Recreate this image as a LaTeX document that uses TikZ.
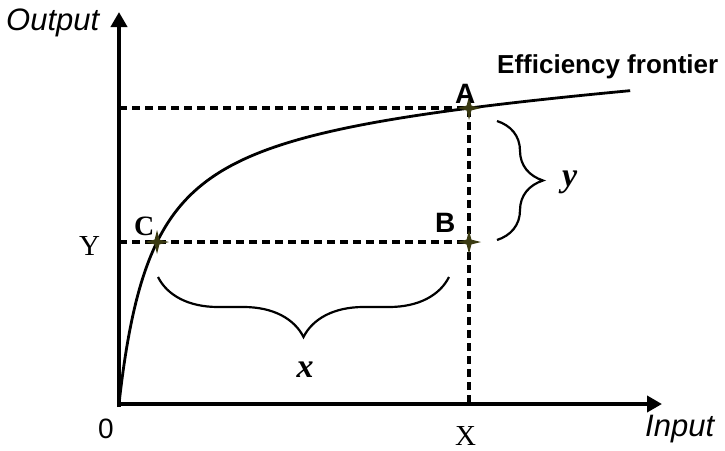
\documentclass[tikz,border=0pt]{standalone}
\usepackage{fontspec}
\setmainfont{Liberation Serif}
\setsansfont{Liberation Sans}
\usetikzlibrary{arrows.meta,decorations.pathreplacing}
\definecolor{markolive}{RGB}{58,58,18}

\tikzset{
  fourstar/.pic={
    \fill[markolive] (0,-12) -- (2.4,-2.4) -- (12,0) -- (2.4,2.4) -- (0,12)
      -- (-2.4,2.4) -- (-12,0) -- (-2.4,-2.4) -- cycle;
  }
}

\begin{document}
\begin{tikzpicture}[
  x=1pt,y=-1pt,
  axis/.style={line width=3.8pt,-{Triangle[length=15pt,width=16pt]}},
  guide/.style={line width=3.2pt,dash pattern=on 8pt off 5pt},
  frontier/.style={line width=2.8pt},
  brc/.style={decorate,decoration={brace,amplitude=#1},line width=2.2pt},
  axislbl/.style={inner sep=0pt,font=\sffamily\itshape\fontsize{31}{33}\selectfont},
  ptlbl/.style={inner sep=0pt,font=\sffamily\bfseries\fontsize{28}{30}\selectfont},
  tick/.style={inner sep=0pt,font=\rmfamily\fontsize{29}{31}\selectfont},
  gap/.style={inner sep=0pt,font=\rmfamily\bfseries\itshape\fontsize{34}{36}\selectfont}
]
  \useasboundingbox (0,0) rectangle (725,450);

  % points
  \coordinate (O) at (119,404);
  \coordinate (A) at (469,108);
  \coordinate (B) at (469,242);
  \coordinate (C) at (157,242);
  \coordinate (ya) at (119,108);
  \coordinate (yc) at (119,242);
  \coordinate (xa) at (469,404);
  \coordinate (ytip) at (119,12);
  \coordinate (xtip) at (662,404);

  % axes
  \draw[axis] (119,407) -- (ytip);
  \draw[axis] (117,404) -- (xtip);

  % guides
  \draw[guide] (ya) -- (A) -- (xa);
  \draw[guide] (yc) -- (B);

  % frontier
  \draw[frontier] plot[domain=0:22.61,samples=160,smooth]
    ({119+\x*\x},{404-301.3*((\x*\x)/(33.7+\x*\x))-0.06*(\x*\x)});

  \pic at (A) {fourstar};
  \pic at (B) {fourstar};
  \pic at (C) {fourstar};

  % braces
  \coordinate (ytop) at (497,121);
  \coordinate (ybot) at (497,240);
  \coordinate (xr) at (449,277);
  \coordinate (xl) at (158,277);
  \draw[brc=46pt] (ytop) -- (ybot);
  \draw[brc=60pt] (xr) -- (xl);

  % labels
  \node[axislbl,anchor=base west] (out) at (6,30) {Output};
  \node[axislbl,anchor=base west] (in) at (645,436) {Input};
  \node[inner sep=0pt,anchor=base west,font=\sffamily\bfseries\fontsize{26}{28}\selectfont]
    (eff) at (497,73) {Efficiency frontier};
  \node[ptlbl,anchor=base west] (la) at (455,103) {A};
  \node[ptlbl,anchor=base west] (lb) at (435,232) {B};
  \node[tick,font=\rmfamily\bfseries\fontsize{28}{30}\selectfont,anchor=base west] (lc) at (134,235) {C};
  \node[tick,anchor=base west] (ly) at (79,255) {Y};
  \node[tick,anchor=base west] (lx) at (455,445) {X};
  \node[inner sep=0pt,anchor=base west,font=\sffamily\fontsize{28}{30}\selectfont] (lo) at (98,438) {0};
  \node[gap,anchor=base] (gx) at (305,377) {x};
  \node[gap,anchor=base west] (gy) at (562,186) {y};
\end{tikzpicture}
\end{document}
